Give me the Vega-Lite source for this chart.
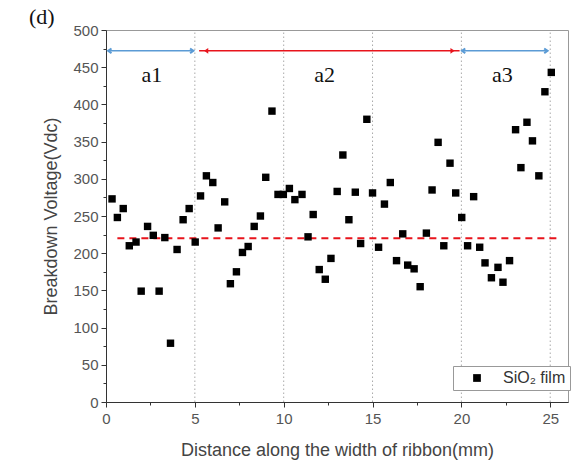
{
  "$schema": "https://vega.github.io/schema/vega-lite/v6.json",
  "width": 462,
  "height": 372,
  "autosize": {"type": "none"},
  "padding": {"left": 106, "top": 30, "right": 4, "bottom": 58},
  "background": "white",
  "config": {"view": {"stroke": "#999", "strokeWidth": 1}, "font": "Liberation Sans"},
  "title": {"text": "(d)", "anchor": "start", "frame": "group", "font": "Liberation Serif", "fontSize": 22, "fontWeight": "normal", "color": "#111", "dx": -77, "dy": 8, "offset": 2},
  "datasets": {
    "pts": [
      {"x":0.34,"y":273},{"x":0.64,"y":248},{"x":0.97,"y":260},{"x":1.31,"y":210},{"x":1.69,"y":215},
      {"x":1.98,"y":149},{"x":2.34,"y":236},{"x":2.66,"y":224},{"x":2.99,"y":149},{"x":3.31,"y":221},
      {"x":3.63,"y":79},{"x":4.0,"y":205},{"x":4.34,"y":245},{"x":4.68,"y":260},{"x":5.02,"y":215},
      {"x":5.32,"y":277},{"x":5.65,"y":304},{"x":6.01,"y":295},{"x":6.31,"y":234},{"x":6.68,"y":269},
      {"x":7.0,"y":159},{"x":7.34,"y":175},{"x":7.68,"y":201},{"x":8.0,"y":209},{"x":8.34,"y":236},
      {"x":8.69,"y":250},{"x":8.99,"y":302},{"x":9.34,"y":391},{"x":9.68,"y":279},{"x":9.98,"y":279},
      {"x":10.32,"y":287},{"x":10.63,"y":272},{"x":11.03,"y":279},{"x":11.37,"y":222},{"x":11.66,"y":252},
      {"x":12.0,"y":178},{"x":12.34,"y":165},{"x":12.66,"y":193},{"x":13.01,"y":283},{"x":13.33,"y":332},
      {"x":13.67,"y":245},{"x":14.03,"y":282},{"x":14.33,"y":213},{"x":14.68,"y":380},{"x":15.0,"y":281},
      {"x":15.34,"y":208},{"x":15.67,"y":266},{"x":16.0,"y":295},{"x":16.35,"y":190},{"x":16.7,"y":226},
      {"x":16.98,"y":184},{"x":17.34,"y":179},{"x":17.68,"y":155},{"x":18.03,"y":227},{"x":18.35,"y":285},
      {"x":18.69,"y":349},{"x":19.01,"y":210},{"x":19.36,"y":321},{"x":19.68,"y":281},{"x":20.02,"y":248},
      {"x":20.35,"y":210},{"x":20.69,"y":276},{"x":21.03,"y":208},{"x":21.33,"y":187},{"x":21.69,"y":167},
      {"x":22.06,"y":181},{"x":22.34,"y":161},{"x":22.71,"y":190},{"x":23.05,"y":366},{"x":23.35,"y":315},
      {"x":23.69,"y":376},{"x":24.0,"y":351},{"x":24.36,"y":304},{"x":24.7,"y":417},{"x":25.06,"y":443}
    ],
    "grid": [
      {"x":5,"y":0,"y2":500},{"x":10,"y":0,"y2":500},{"x":15,"y":0,"y2":500},{"x":20,"y":0,"y2":500},{"x":25,"y":0,"y2":500}
    ],
    "avg": [{"x":0.64,"x2":25.4,"y":220}],
    "blueArrows": [{"x":0.12,"x2":4.92,"y":472},{"x":20.03,"x2":24.85,"y":472}],
    "redArrows": [{"x":5.24,"x2":19.9,"y":472}],
    "blueHeads": [
      {"x":0.12,"y":472,"dir":"left"},{"x":4.92,"y":472,"dir":"right"},
      {"x":20.03,"y":472,"dir":"left"},{"x":24.85,"y":472,"dir":"right"}
    ],
    "redHeads": [{"x":5.52,"y":472,"dir":"left"},{"x":19.62,"y":472,"dir":"right"}],
    "zones": [{"x":2.58,"y":439,"label":"a1"},{"x":12.3,"y":439,"label":"a2"},{"x":22.3,"y":439,"label":"a3"}]
  },
  "encoding": {
    "x": {
      "field": "x", "type": "quantitative",
      "scale": {"domain": [0, 26], "nice": false, "zero": false},
      "axis": {
        "values": [0,2.5,5,7.5,10,12.5,15,17.5,20,22.5,25],
        "labelExpr": "datum.value % 5 === 0 ? format(datum.value, 'd') : ''",
        "grid": false,
        "tickSize": {"condition": {"test": "datum.value % 5 !== 0", "value": 3}, "value": 5},
        "domainColor": "#333", "tickColor": "#333", "labelColor": "#555",
        "labelFontSize": 15, "labelFont": "Liberation Sans", "labelPadding": 4, "labelFlush": false,
        "title": "Distance along the width of ribbon(mm)", "titleFontSize": 18, "titleFontWeight": "normal",
        "titleColor": "#444", "titleFont": "Liberation Sans", "titlePadding": 15
      }
    },
    "y": {
      "field": "y", "type": "quantitative",
      "scale": {"domain": [0, 500], "nice": false},
      "axis": {
        "values": [0,25,50,75,100,125,150,175,200,225,250,275,300,325,350,375,400,425,450,475,500],
        "labelExpr": "datum.value % 50 === 0 ? format(datum.value, 'd') : ''",
        "grid": false,
        "tickSize": {"condition": {"test": "datum.value % 50 !== 0", "value": 3}, "value": 5},
        "domainColor": "#333", "tickColor": "#333", "labelColor": "#555",
        "labelFontSize": 15, "labelFont": "Liberation Sans", "labelPadding": 3, "labelFlush": false,
        "title": "Breakdown Voltage(Vdc)", "titleFontSize": 18, "titleFontWeight": "normal",
        "titleColor": "#444", "titleFont": "Liberation Sans", "titlePadding": 12
      }
    }
  },
  "layer": [
    {
      "data": {"name": "grid"},
      "mark": {"type": "rule", "color": "#aaa", "strokeDash": [1.5, 2.5], "strokeWidth": 1},
      "encoding": {"y2": {"field": "y2"}}
    },
    {
      "data": {"name": "avg"},
      "mark": {"type": "rule", "color": "#e8141c", "strokeDash": [7, 5], "strokeWidth": 2},
      "encoding": {"x2": {"field": "x2"}}
    },
    {
      "data": {"name": "pts"},
      "transform": [{"calculate": "'SiO₂ film'", "as": "series"}],
      "mark": {"type": "point", "shape": "square", "filled": true, "size": 55, "opacity": 1},
      "encoding": {
        "color": {
          "field": "series", "type": "nominal",
          "scale": {"range": ["#000000"]},
          "legend": {
            "title": null, "orient": "none", "legendX": 347, "legendY": 336,
            "symbolType": "square", "symbolSize": 60, "symbolFillColor": "#000", "symbolStrokeWidth": 0,
            "labelFontSize": 16, "labelColor": "#333", "labelFont": "Liberation Sans",
            "strokeColor": "#999", "fillColor": "white", "padding": 4,
            "symbolOffset": 12, "labelOffset": 18
          }
        }
      }
    },
    {
      "data": {"name": "blueArrows"},
      "mark": {"type": "rule", "color": "#5b9bd5", "strokeWidth": 1.5},
      "encoding": {"x2": {"field": "x2"}}
    },
    {
      "data": {"name": "redArrows"},
      "mark": {"type": "rule", "color": "#e8141c", "strokeWidth": 1.5},
      "encoding": {"x2": {"field": "x2"}}
    },
    {
      "data": {"name": "blueHeads"},
      "mark": {"type": "point", "filled": false, "color": "#5b9bd5", "strokeWidth": 2, "size": 45, "opacity": 1},
      "encoding": {"shape": {"field": "dir", "type": "nominal", "scale": {"domain": ["left", "right"], "range": ["M 1 -0.7 L 0 0 L 1 0.7", "M -1 -0.7 L 0 0 L -1 0.7"]}, "legend": null}}
    },
    {
      "data": {"name": "redHeads"},
      "mark": {"type": "point", "filled": true, "color": "#e8141c", "size": 70, "opacity": 1},
      "encoding": {"shape": {"field": "dir", "type": "nominal", "scale": {"domain": ["left", "right"], "range": ["triangle-left", "triangle-right"]}, "legend": null}}
    },
    {
      "data": {"name": "zones"},
      "mark": {"type": "text", "font": "Liberation Serif", "fontSize": 22, "color": "#111"},
      "encoding": {"text": {"field": "label"}}
    }
  ]
}
